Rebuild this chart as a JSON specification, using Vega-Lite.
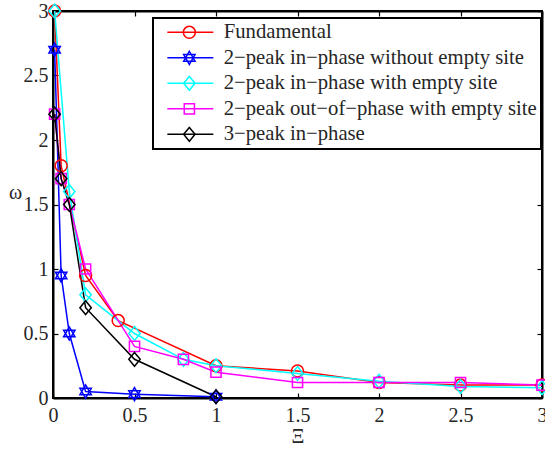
{
  "$schema": "https://vega.github.io/schema/vega-lite/v6.json",
  "width": 489,
  "height": 387,
  "autosize": {"type": "none"},
  "padding": {"left": 53, "top": 11, "right": 3, "bottom": 52},
  "background": "white",
  "config": {
    "view": {"stroke": "black", "strokeWidth": 2},
    "font": "Liberation Serif",
    "axis": {
      "domainColor": "black",
      "domainWidth": 2,
      "tickColor": "black",
      "tickWidth": 1.2,
      "grid": false,
      "labelFont": "Liberation Serif",
      "labelFontSize": 20,
      "labelColor": "#262626",
      "titleFont": "Liberation Serif",
      "titleFontSize": 20,
      "titleFontWeight": "normal",
      "titleColor": "#262626"
    },
    "legend": {"strokeWidth": 2}
  },
  "data": {
    "values": [
      {"series": "Fundamental", "xi": 0.01, "omega": 3.0},
      {"series": "Fundamental", "xi": 0.05, "omega": 1.8},
      {"series": "Fundamental", "xi": 0.2, "omega": 0.95},
      {"series": "Fundamental", "xi": 0.4, "omega": 0.6},
      {"series": "Fundamental", "xi": 1.0, "omega": 0.25},
      {"series": "Fundamental", "xi": 1.5, "omega": 0.21},
      {"series": "Fundamental", "xi": 2.0, "omega": 0.12},
      {"series": "Fundamental", "xi": 2.5, "omega": 0.1},
      {"series": "Fundamental", "xi": 3.0, "omega": 0.1},

      {"series": "2−peak in−phase without empty site", "xi": 0.01, "omega": 2.7},
      {"series": "2−peak in−phase without empty site", "xi": 0.05, "omega": 0.95},
      {"series": "2−peak in−phase without empty site", "xi": 0.1, "omega": 0.5},
      {"series": "2−peak in−phase without empty site", "xi": 0.2, "omega": 0.05},
      {"series": "2−peak in−phase without empty site", "xi": 0.5, "omega": 0.03},
      {"series": "2−peak in−phase without empty site", "xi": 1.0, "omega": 0.01},

      {"series": "2−peak in−phase with empty site", "xi": 0.01, "omega": 3.0},
      {"series": "2−peak in−phase with empty site", "xi": 0.1, "omega": 1.6},
      {"series": "2−peak in−phase with empty site", "xi": 0.2, "omega": 0.8},
      {"series": "2−peak in−phase with empty site", "xi": 0.5, "omega": 0.5},
      {"series": "2−peak in−phase with empty site", "xi": 0.8, "omega": 0.3},
      {"series": "2−peak in−phase with empty site", "xi": 1.0, "omega": 0.25},
      {"series": "2−peak in−phase with empty site", "xi": 1.5, "omega": 0.19},
      {"series": "2−peak in−phase with empty site", "xi": 2.0, "omega": 0.13},
      {"series": "2−peak in−phase with empty site", "xi": 2.5, "omega": 0.09},
      {"series": "2−peak in−phase with empty site", "xi": 3.0, "omega": 0.08},

      {"series": "2−peak out−of−phase with empty site", "xi": 0.01, "omega": 2.2},
      {"series": "2−peak out−of−phase with empty site", "xi": 0.05, "omega": 1.7},
      {"series": "2−peak out−of−phase with empty site", "xi": 0.1, "omega": 1.5},
      {"series": "2−peak out−of−phase with empty site", "xi": 0.2, "omega": 1.0},
      {"series": "2−peak out−of−phase with empty site", "xi": 0.5, "omega": 0.4},
      {"series": "2−peak out−of−phase with empty site", "xi": 0.8, "omega": 0.3},
      {"series": "2−peak out−of−phase with empty site", "xi": 1.0, "omega": 0.2},
      {"series": "2−peak out−of−phase with empty site", "xi": 1.5, "omega": 0.12},
      {"series": "2−peak out−of−phase with empty site", "xi": 2.0, "omega": 0.12},
      {"series": "2−peak out−of−phase with empty site", "xi": 2.5, "omega": 0.12},
      {"series": "2−peak out−of−phase with empty site", "xi": 3.0, "omega": 0.1},

      {"series": "3−peak in−phase", "xi": 0.01, "omega": 2.2},
      {"series": "3−peak in−phase", "xi": 0.05, "omega": 1.7},
      {"series": "3−peak in−phase", "xi": 0.1, "omega": 1.5},
      {"series": "3−peak in−phase", "xi": 0.2, "omega": 0.7},
      {"series": "3−peak in−phase", "xi": 0.5, "omega": 0.3},
      {"series": "3−peak in−phase", "xi": 1.0, "omega": 0.01}
    ]
  },
  "layer": [
    {
      "mark": {"type": "line", "strokeWidth": 1.5, "clip": false},
      "encoding": {
        "x": {
          "field": "xi", "type": "quantitative",
          "scale": {"domain": [0, 3], "nice": false, "zero": false},
          "axis": {
            "orient": "bottom", "title": "Ξ",
            "values": [0, 0.5, 1, 1.5, 2, 2.5, 3], "format": "~g",
            "tickSize": -5, "labelPadding": 12,
            "labelFlush": false, "labelOverlap": false,
            "titleX": 244.5, "titleY": 44, "titleBaseline": "alphabetic", "titleAlign": "center"
          }
        },
        "y": {
          "field": "omega", "type": "quantitative",
          "scale": {"domain": [0, 3], "nice": false, "zero": false},
          "axis": {
            "orient": "left", "title": "ω",
            "values": [0, 0.5, 1, 1.5, 2, 2.5, 3], "format": "~g",
            "tickSize": -5, "labelPadding": 10,
            "labelFlush": false, "labelOverlap": false,
            "titleAngle": 0, "titleX": -38, "titleY": 187,
            "titleBaseline": "alphabetic", "titleAlign": "center"
          }
        },
        "color": {
          "field": "series", "type": "nominal",
          "scale": {
            "domain": [
              "Fundamental",
              "2−peak in−phase without empty site",
              "2−peak in−phase with empty site",
              "2−peak out−of−phase with empty site",
              "3−peak in−phase"
            ],
            "range": ["#ff0000", "#0000ff", "#00ffff", "#ff00ff", "#000000"]
          },
          "legend": {
            "orient": "none", "legendX": 100, "legendY": 7,
            "title": null,
            "symbolType": "M-4.6,0H4.6", "symbolSize": 100, "symbolStrokeWidth": 1.5,
            "symbolOffset": 23,
            "labelFont": "Liberation Serif", "labelFontSize": 20.7, "labelColor": "#262626",
            "labelOffset": 23, "labelLimit": 0,
            "padding": 4, "rowPadding": 3.5,
            "strokeColor": "black", "fillColor": "white"
          }
        }
      }
    },
    {
      "mark": {"type": "point", "filled": false, "size": 144, "strokeWidth": 1.5, "opacity": 1, "clip": false},
      "encoding": {
        "x": {
          "field": "xi", "type": "quantitative",
          "scale": {"domain": [0, 3], "nice": false, "zero": false},
          "axis": {
            "orient": "top", "title": null, "labels": false,
            "values": [0, 0.5, 1, 1.5, 2, 2.5, 3], "tickSize": -5
          }
        },
        "y": {
          "field": "omega", "type": "quantitative",
          "scale": {"domain": [0, 3], "nice": false, "zero": false},
          "axis": {
            "orient": "right", "title": null, "labels": false,
            "values": [0, 0.5, 1, 1.5, 2, 2.5, 3], "tickSize": -5
          }
        },
        "color": {"field": "series", "type": "nominal", "legend": null},
        "shape": {
          "field": "series", "type": "nominal",
          "scale": {
            "domain": [
              "3−peak in−phase",
              "2−peak out−of−phase with empty site",
              "2−peak in−phase with empty site",
              "2−peak in−phase without empty site",
              "Fundamental"
            ],
            "range": [
              "M0,-1.15L0.95,0L0,1.15L-0.95,0Z",
              "M-0.85,-0.85H0.85V0.85H-0.85Z",
              "M0,-1.15L0.95,0L0,1.15L-0.95,0Z",
              "M0,-1.1L0.95,0.55L-0.95,0.55Z M0,1.1L0.95,-0.55L-0.95,-0.55Z",
              "circle"
            ]
          },
          "legend": {
            "orient": "none", "legendX": 100, "legendY": 7, "zindex": 1,
            "title": null,
            "values": [
              "Fundamental",
              "2−peak in−phase without empty site",
              "2−peak in−phase with empty site",
              "2−peak out−of−phase with empty site",
              "3−peak in−phase"
            ],
            "symbolSize": 144, "symbolStrokeWidth": 1.5, "symbolOffset": 22,
            "symbolFillColor": "transparent",
            "symbolStrokeColor": {"expr": "scale('color', datum.value)"},
            "labelFont": "Liberation Serif", "labelFontSize": 20.7, "labelOpacity": 0,
            "labelOffset": 23, "labelLimit": 0,
            "padding": 4, "rowPadding": 3.5
          }
        }
      }
    }
  ],
  "resolve": {
    "axis": {"x": "independent", "y": "independent"}
  }
}
